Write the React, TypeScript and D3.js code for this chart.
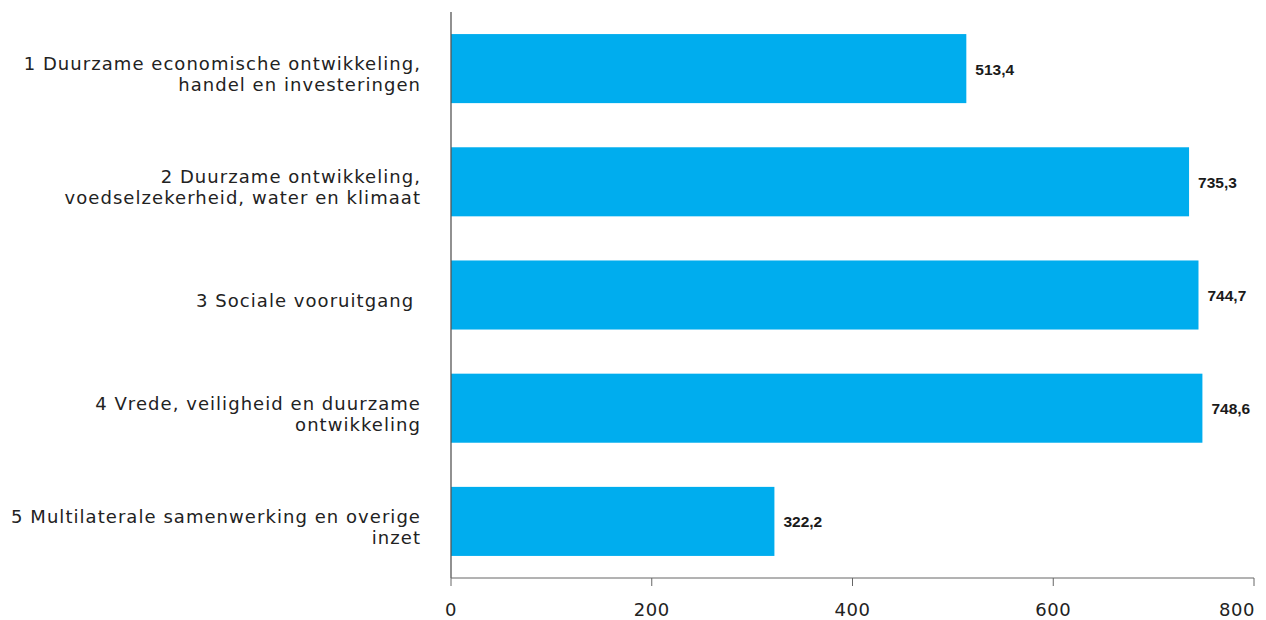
import React from "react";
import * as d3 from "d3";

const categories: string[][] = [
  ["1 Duurzame economische ontwikkeling,", "handel en investeringen"],
  ["2 Duurzame ontwikkeling,", "voedselzekerheid, water en klimaat"],
  ["3 Sociale vooruitgang "],
  ["4 Vrede, veiligheid en duurzame", "ontwikkeling"],
  ["5 Multilaterale samenwerking en overige", "inzet"],
];
const values: number[] = [513.4, 735.3, 744.7, 748.6, 322.2];
const valueLabels: string[] = ["513,4", "735,3", "744,7", "748,6", "322,2"];
const xTicks: number[] = [0, 200, 400, 600, 800];

const W = 1266;
const H = 620;
const left = 451;
const right = 1254;
const top = 12;
const bottom = 578;
const labelFont = "'DejaVu Sans', sans-serif";
const valueFont = "'Liberation Sans', Arial, sans-serif";

export default function App() {
  const x = d3.scaleLinear().domain([0, 800]).range([left, right]);
  const y = d3
    .scaleBand<number>()
    .domain(d3.range(values.length))
    .range([top, bottom])
    .paddingInner(0.39)
    .paddingOuter(0.195);

  return (
    <svg
      width={W}
      height={H}
      style={{ position: "absolute", left: 0, top: 0, display: "block" }}
    >
      <rect width={W} height={H} fill="#fff" />
      {values.map((v, i) => {
        const y0 = y(i)!;
        const bw = y.bandwidth();
        const cy = y0 + bw / 2;
        const lines = categories[i];
        const lh = 21;
        const off = 6;
        return (
          <g key={i}>
            <rect x={x(0)} y={y0} width={x(v) - x(0)} height={bw} fill="#00adee" />
            <text
              x={x(v) + 9}
              y={cy + 6}
              fontFamily={valueFont}
              fontSize={15.5}
              fontWeight="bold"
              fill="#1a1a1a"
            >
              {valueLabels[i]}
            </text>
            {lines.map((l, j) => (
              <text
                key={j}
                x={421}
                y={cy + off + (j - (lines.length - 1) / 2) * lh + 6}
                textAnchor="end"
                fontFamily={labelFont}
                fontSize={18}
                letterSpacing={1.05}
                fill="#222"
                style={{ whiteSpace: "pre" }}
              >
                {l}
              </text>
            ))}
          </g>
        );
      })}
      <line x1={left} x2={left} y1={top} y2={bottom} stroke="#555" strokeWidth={1.3} />
      <line x1={left} x2={right} y1={bottom} y2={bottom} stroke="#666" strokeWidth={1} />
      {xTicks.map((t) => (
        <g key={t}>
          <line x1={x(t)} x2={x(t)} y1={bottom} y2={bottom + 8} stroke="#666" strokeWidth={1} />
          <text
            x={x(t) - (t === 800 ? 17 : 0)}
            y={616}
            textAnchor="middle"
            fontFamily={labelFont}
            fontSize={18}
            letterSpacing={0.6}
            fill="#222"
          >
            {t}
          </text>
        </g>
      ))}
    </svg>
  );
}
